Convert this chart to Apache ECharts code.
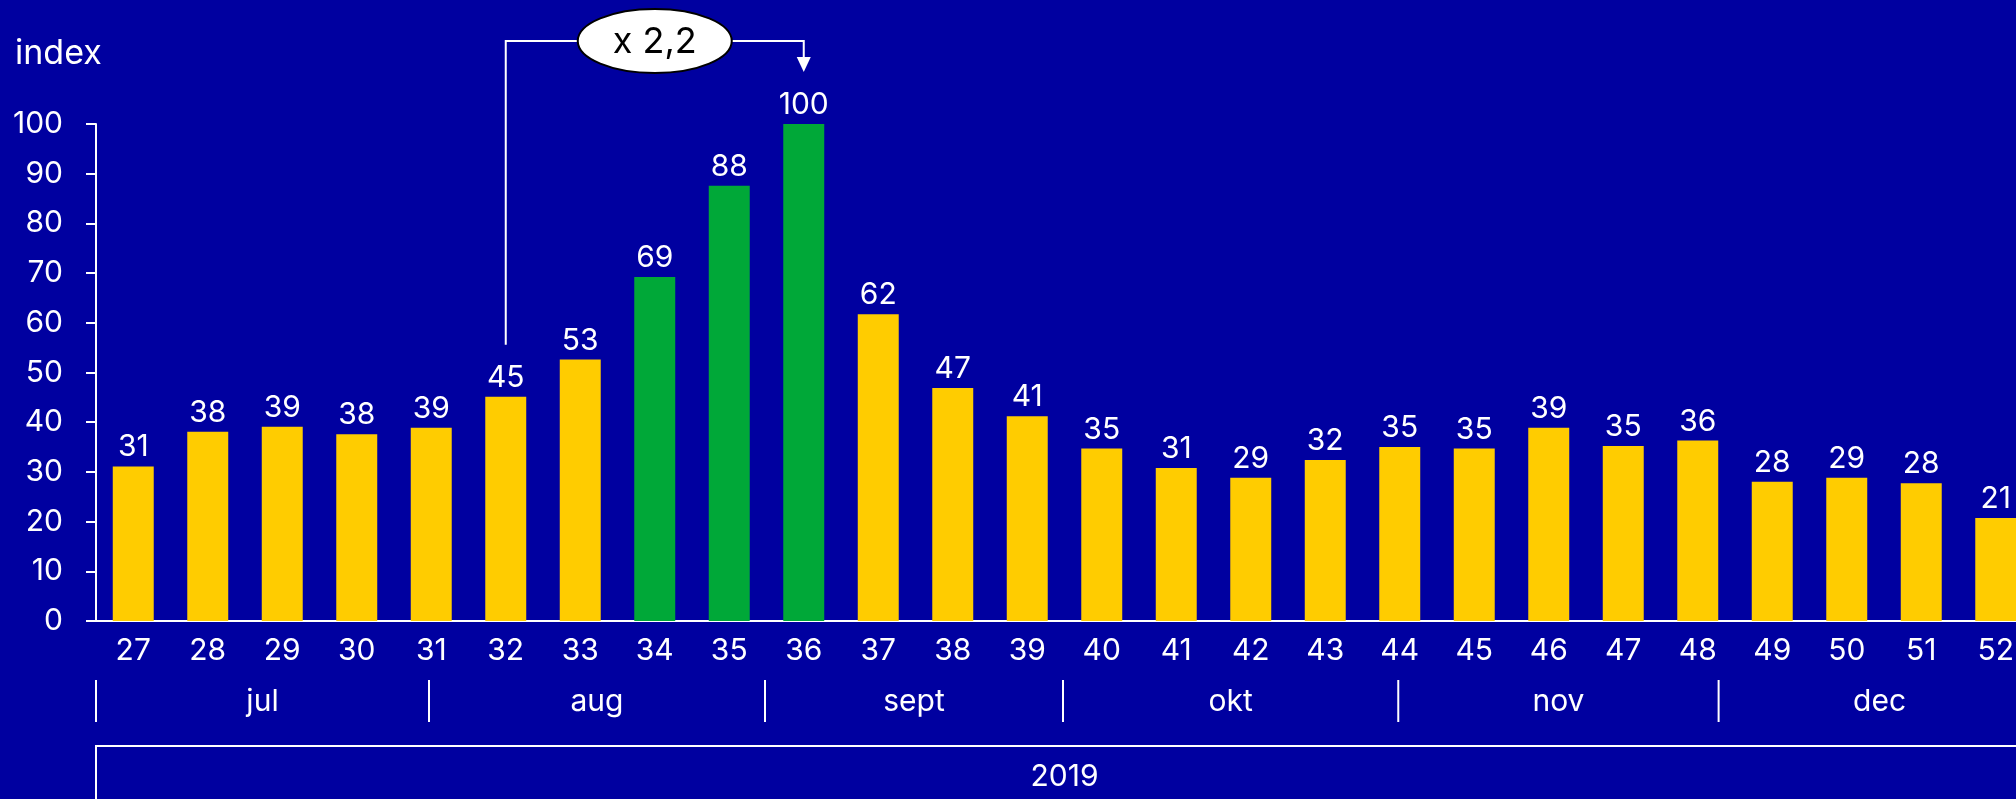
<!DOCTYPE html>
<html>
<head>
<meta charset="utf-8">
<title>index</title>
<script src="https://cdn.jsdelivr.net/npm/echarts@6/dist/echarts.min.js"></script>
<style>
  html, body { margin: 0; padding: 0; background: #0000a0; overflow: hidden; }
  /* wider than the window: the last bar runs off the right edge, as in the original */
  #chart { width: 2040px; height: 799px; }
</style>
</head>
<body>
<div id="chart"></div>
<script>
  // weeks 27-52, 2019
  var weeks = ['27','28','29','30','31','32','33','34','35','36','37','38','39',
               '40','41','42','43','44','45','46','47','48','49','50','51','52'];
  var values = [31.1, 38.1, 39.1, 37.6, 38.9, 45.1, 52.6, 69.2, 87.6, 100, 61.7, 46.9, 41.2,
                34.7, 30.8, 28.8, 32.4, 35, 34.7, 38.9, 35.2, 36.3, 28, 28.8, 27.7, 20.7];
  var greenWeeks = ['34','35','36'];

  var months = ['jul','aug','sept','okt','nov','dec'];
  var monthStart = [0, 4.47, 8.98, 12.98, 17.48, 21.78];
  var monthEnd = [4.47, 8.98, 12.98, 17.48, 21.78, 26.1];

  var yearLabel = '2019';
  var yTicks = [0, 10, 20, 30, 40, 50, 60, 70, 80, 90, 100];

  var fromWeek = '32', toWeek = '36', ratioText = 'x 2,2';

  var font = 'Inter, "Noto Sans", sans-serif';
  var white = '#ffffff';
  var yellow = '#ffcc00';
  var green = '#00a838';

  var chart = echarts.init(document.getElementById('chart'));

  var barData = values.map(function (v, i) {
    return { value: v, itemStyle: { color: greenWeeks.indexOf(weeks[i]) >= 0 ? green : yellow } };
  });

  var monthData = months.map(function (m, i) { return [monthStart[i], monthEnd[i]]; });

  var option = {
    backgroundColor: '#0000a0',
    animation: false,
    textStyle: { fontFamily: font },
    title: {
      text: 'index', left: 15, top: 37, padding: 0,
      textStyle: { color: white, fontSize: 34, fontWeight: 'normal', fontFamily: font }
    },
    grid: { left: 96, top: 124, width: 1937, height: 497, containLabel: false },
    xAxis: [{
      type: 'category',
      data: weeks,
      axisLine: { lineStyle: { color: white, width: 2 } },
      axisTick: { show: false },
      axisLabel: { color: white, fontSize: 30, margin: 15, fontFamily: font }
    }, {
      type: 'value', min: 0, max: 26, show: false, position: 'top'
    }],
    yAxis: {
      type: 'value', min: yTicks[0], max: yTicks[yTicks.length - 1], interval: 10,
      splitLine: { show: false },
      axisLine: { show: true, lineStyle: { color: white, width: 2 } },
      axisTick: { show: true, length: 10, lineStyle: { color: white, width: 2 } },
      axisLabel: { color: white, fontSize: 30, margin: 33, fontFamily: font }
    },
    series: [{
      type: 'bar',
      data: barData,
      barWidth: '55%',
      label: {
        show: true, position: 'top', distance: 4,
        color: white, fontSize: 30, fontFamily: font,
        formatter: function (p) { return Math.round(p.value); }
      }
    }, {
      // month separators and names
      type: 'custom', xAxisIndex: 1, yAxisIndex: 0, silent: true,
      data: monthData,
      renderItem: function (params, api) {
        var p0 = api.coord([api.value(0), 0]);
        var p1 = api.coord([api.value(1), 0]);
        var base = p0[1];
        return {
          type: 'group',
          children: [{
            type: 'line',
            shape: { x1: p0[0], y1: base + 59, x2: p0[0], y2: base + 101 },
            style: { stroke: white, lineWidth: 2 }
          }, {
            type: 'text',
            x: (p0[0] + p1[0]) / 2, y: base + 81,
            style: {
              text: months[params.dataIndex], fill: white, font: '30px ' + font,
              align: 'center', verticalAlign: 'middle',
              textAlign: 'center', textVerticalAlign: 'middle'
            }
          }]
        };
      }
    }, {
      // year box
      type: 'custom', xAxisIndex: 1, yAxisIndex: 0, silent: true,
      data: [[0, weeks.length]],
      renderItem: function (params, api) {
        var p0 = api.coord([api.value(0), 0]);
        var p1 = api.coord([api.value(1), 0]);
        var base = p0[1];
        return {
          type: 'group',
          children: [{
            type: 'rect',
            shape: { x: p0[0], y: base + 125, width: p1[0] - p0[0] + 40, height: 120 },
            style: { fill: 'none', stroke: white, lineWidth: 2 }
          }, {
            type: 'text',
            x: (p0[0] + p1[0]) / 2, y: base + 156,
            style: {
              text: yearLabel, fill: white, font: '30px ' + font,
              align: 'center', verticalAlign: 'middle',
              textAlign: 'center', textVerticalAlign: 'middle'
            }
          }]
        };
      }
    }, {
      // growth annotation between two weeks
      type: 'custom', xAxisIndex: 1, yAxisIndex: 0, silent: true, z: 5,
      data: [[weeks.indexOf(fromWeek) + 0.5, values[weeks.indexOf(fromWeek)],
              weeks.indexOf(toWeek) + 0.5, values[weeks.indexOf(toWeek)]]],
      renderItem: function (params, api) {
        var a = api.coord([api.value(0), api.value(1)]);
        var b = api.coord([api.value(2), api.value(3)]);
        var topY = 41;
        var aY = a[1] - 52;
        var tip = b[1] - 52;
        var cx = (a[0] + b[0]) / 2;
        return {
          type: 'group',
          children: [{
            type: 'polyline',
            shape: { points: [[a[0], aY], [a[0], topY], [b[0], topY], [b[0], tip - 14]] },
            style: { stroke: white, lineWidth: 2, fill: 'none' }
          }, {
            type: 'polygon',
            shape: { points: [[b[0] - 7, tip - 15], [b[0] + 7, tip - 15], [b[0], tip]] },
            style: { fill: white }
          }, {
            type: 'ellipse',
            shape: { cx: cx, cy: topY, rx: 77, ry: 32 },
            style: { fill: white, stroke: '#000', lineWidth: 2 }
          }, {
            type: 'text',
            x: cx, y: topY + 1,
            style: {
              text: ratioText, fill: '#000', font: '36px ' + font,
              align: 'center', verticalAlign: 'middle',
              textAlign: 'center', textVerticalAlign: 'middle'
            }
          }]
        };
      }
    }]
  };

  chart.setOption(option);
</script>
</body>
</html>
